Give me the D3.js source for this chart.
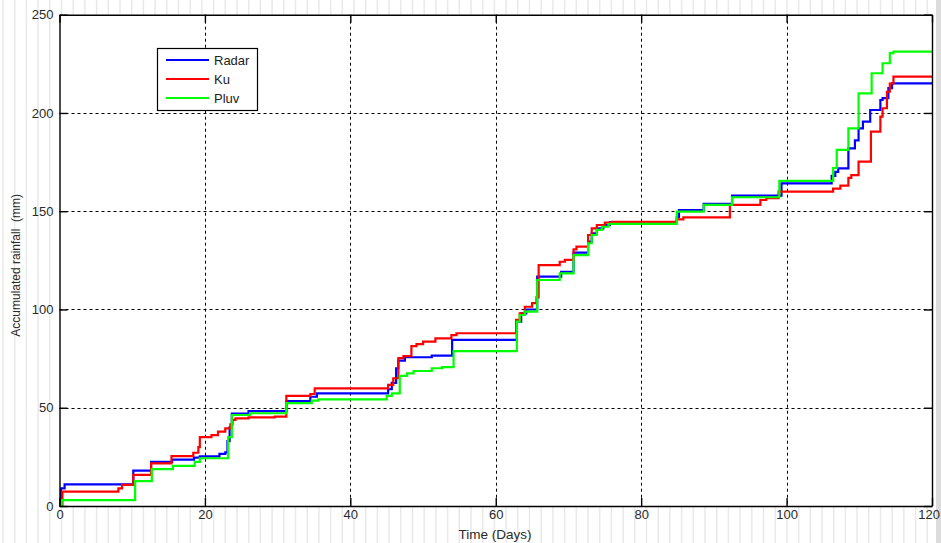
<!DOCTYPE html>
<html>
<head>
<meta charset="utf-8">
<script src="https://cdn.jsdelivr.net/npm/d3@7/dist/d3.min.js"></script>
<style>
  html, body { margin: 0; padding: 0; background: #ffffff; }
  svg { display: block; }
  text { font-family: "Liberation Sans", Arial, sans-serif; }
</style>
</head>
<body>
<script>
// ---------- Data ----------
const seriesNames = ["Radar", "Ku", "Pluv"];
const seriesColors = ["#0000ff", "#ff0000", "#00ff00"];
const xTicks = [0, 20, 40, 60, 80, 100, 120];
const yTicks = [0, 50, 100, 150, 200, 250];
const xLabel = "Time (Days)";
const yLabel = "Accumulated rainfall  (mm)";

// [day, accumulated mm]
const radar = [[0,0],[0.2,9],[0.7,11],[10.15,18],[12.6,22.5],[15.5,23.6],[18.5,24.6],[19.3,25.3],[22,26.5],[22.8,27.3],[23.1,33],[23.4,40],[23.7,47],[26,48.3],[31.2,53.4],[34.5,55.6],[35.4,57.3],[45.2,59.4],[45.7,62.7],[46.3,70],[46.6,74],[47.5,75.7],[51.2,76.5],[54,84.5],[62.9,93.8],[63.5,98],[64.2,100],[65.7,116.7],[69,119.2],[70.7,128.9],[72.7,134.5],[73.2,138.8],[73.9,141.3],[74.8,143],[75.7,144.5],[84.9,147],[85.2,150.6],[88.6,153.7],[92.5,157.9],[99.3,164.2],[106.2,168],[106.7,170],[107.1,171.8],[108.5,182],[109.4,186],[109.9,192.2],[110.5,195.6],[111.5,201.5],[112.9,206.6],[113.2,207.5],[114,212.6],[114.5,215.1],[120,215.1]];
const ku = [[0,0],[0.4,7.3],[8.1,9],[8.6,10.7],[10.15,15.8],[12.6,21.7],[15.4,25.4],[18.4,27.1],[19.1,30],[19.3,35],[20.9,36.1],[21.8,37.8],[22.8,39.5],[23.5,41.5],[23.8,43.8],[24.2,44.6],[26,45.1],[29.6,45.5],[31.2,56],[34.5,57],[35.1,59.9],[45.2,61.6],[45.9,65],[46.6,75.2],[47.3,76.3],[48.4,81.4],[49.1,82.4],[50,83.6],[51.7,85.3],[53.9,87],[54.6,87.9],[62.8,94.7],[63.3,98],[64,101.4],[65,103.2],[65.6,106.2],[65.9,122.6],[68.8,124.3],[69.5,125.2],[70.7,130.6],[71.1,132],[72.7,137.9],[73.2,141.3],[73.9,143],[75,144.2],[76,144.6],[84.9,145.9],[85.8,146.9],[92.2,153.2],[96.4,155.7],[97.2,156.7],[98.9,160],[106.4,161.5],[107.4,163],[108.5,167],[108.9,168.4],[109.9,175.2],[111.6,190.5],[112.9,198.1],[113.2,202.4],[113.8,210.8],[114.2,215],[114.7,218.5],[120,218.5]];
const pluv = [[0,0],[0.3,3],[10.4,12.7],[12.7,18.8],[15.6,20.4],[18.6,22.5],[19.3,24.3],[23.2,35],[23.7,46.3],[26.2,47.2],[31.2,52.3],[34.7,53.6],[35.6,54.3],[45,56],[45.7,57.3],[46.8,66.2],[47.8,67.5],[48.7,68.7],[51.2,70.1],[52.6,70.7],[54.2,78.8],[62.9,93.8],[63.3,97.2],[64,98.9],[65.7,115],[68.8,118.4],[70.7,127.7],[72.7,133.7],[73.2,137.9],[73.9,140.5],[74.6,142.1],[75.5,143.6],[84.9,149.8],[88.6,153.2],[92.5,157.1],[99,165.4],[106.4,172],[106.9,181.2],[108.5,192.2],[109.9,210],[111.7,220.2],[113.2,225.3],[114.2,230.4],[114.7,231.2],[120,231.2]];
const seriesData = [radar, ku, pluv];

// ---------- Layout ----------
const W = 941, H = 543;
const pLeft = 59.5, pRight = 932, pTop = 14.7, pBottom = 506;

const svg = d3.select("body").append("svg").attr("width", W).attr("height", H);

// faint striped background (screenshot backdrop)
const stripes = d3.range(3, W, 11.7);
svg.append("g").selectAll("line").data(stripes).join("line")
  .attr("x1", d => d).attr("x2", d => d).attr("y1", 0).attr("y2", H)
  .attr("stroke", "#e9e9e9").attr("stroke-width", 1.5);
svg.append("rect").attr("x", 936).attr("y", 0).attr("width", 5).attr("height", H).attr("fill", "#dcdcdc");

const x = d3.scaleLinear().domain([0, 120]).range([pLeft, pRight]);
const y = d3.scaleLinear().domain([0, 250]).range([pBottom, pTop]);

// plot background
svg.append("rect").attr("x", pLeft).attr("y", pTop)
  .attr("width", pRight - pLeft).attr("height", pBottom - pTop).attr("fill", "#ffffff");

// grid
const grid = svg.append("g").attr("stroke", "#000").attr("stroke-width", 1).attr("stroke-dasharray", "3,3");
grid.selectAll(".gx").data(xTicks.filter(d => d > 0 && d < 120)).join("line")
  .attr("x1", d => Math.round(x(d)) + 0.5).attr("x2", d => Math.round(x(d)) + 0.5)
  .attr("y1", pTop).attr("y2", pBottom);
grid.selectAll(".gy").data(yTicks.filter(d => d > 0 && d < 250)).join("line")
  .attr("y1", d => Math.round(y(d)) + 0.5).attr("y2", d => Math.round(y(d)) + 0.5)
  .attr("x1", pLeft).attr("x2", pRight);

// series
const line = d3.line().x(d => x(d[0])).y(d => y(d[1])).curve(d3.curveStepAfter);
svg.append("g").selectAll("path").data(seriesData).join("path")
  .attr("d", line).attr("fill", "none")
  .attr("stroke", (d, i) => seriesColors[i]).attr("stroke-width", 2.2)
  .attr("stroke-linejoin", "miter");

// axes (ticks inside)
const fmt = d3.format("d");
const axB = d3.axisBottom(x).tickValues(xTicks).tickSizeInner(-8).tickSizeOuter(0).tickPadding(4).tickFormat(fmt);
const axT = d3.axisTop(x).tickValues(xTicks).tickSizeInner(-8).tickSizeOuter(0).tickFormat("");
const axL = d3.axisLeft(y).tickValues(yTicks).tickSizeInner(-8).tickSizeOuter(0).tickPadding(6).tickFormat(fmt);
const axR = d3.axisRight(y).tickValues(yTicks).tickSizeInner(-8).tickSizeOuter(0).tickFormat("");

function styleAxis(g) {
  g.select(".domain").attr("stroke", "#000").attr("stroke-width", 1.4);
  g.selectAll(".tick line").attr("stroke", "#000").attr("stroke-width", 1.4);
  g.selectAll(".tick text").attr("fill", "#2a2a2a").style("font-size", "13px");
}
const gB = svg.append("g").attr("transform", `translate(0,${pBottom})`).call(axB).call(styleAxis);
// keep the last label inside the page edge
gB.selectAll(".tick text").filter(d => d === xTicks[xTicks.length - 1])
  .attr("text-anchor", "end").attr("x", W - pRight - 1.5);
svg.append("g").attr("transform", `translate(0,${pTop})`).call(axT).call(styleAxis);
svg.append("g").attr("transform", `translate(${pLeft},0)`).call(axL).call(styleAxis);
svg.append("g").attr("transform", `translate(${pRight},0)`).call(axR).call(styleAxis);

// axis titles
svg.append("text").attr("x", 495).attr("y", 539).attr("text-anchor", "middle")
  .attr("fill", "#2a2a2a").style("font-size", "13.5px").text(xLabel);
svg.append("text").attr("transform", `translate(20,${(pTop + pBottom) / 2 + 5}) rotate(-90)`)
  .attr("text-anchor", "middle").attr("fill", "#2a2a2a").style("font-size", "12px")
  .style("white-space", "pre").text(yLabel);

// legend
const lg = svg.append("g");
lg.append("rect").attr("x", 157.5).attr("y", 48.5).attr("width", 100).attr("height", 62)
  .attr("fill", "#fff").attr("stroke", "#000").attr("stroke-width", 1.2);
const items = lg.selectAll(".it").data(seriesNames).join("g")
  .attr("transform", (d, i) => `translate(0,${60 + i * 19})`);
items.append("line").attr("x1", 166).attr("x2", 209).attr("y1", 0).attr("y2", 0)
  .attr("stroke", (d, i) => seriesColors[i]).attr("stroke-width", 2.2);
items.append("text").attr("x", 214).attr("y", 4.5).attr("fill", "#222")
  .style("font-size", "13px").text(d => d);
</script>
</body>
</html>
